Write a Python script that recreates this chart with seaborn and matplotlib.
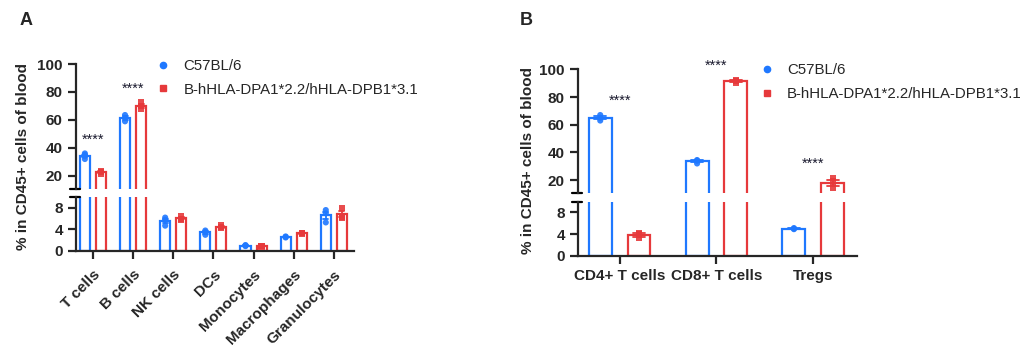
import pandas as pd
import matplotlib
matplotlib.use("Agg")
import matplotlib.pyplot as plt
from matplotlib.lines import Line2D
import seaborn as sns

# Групи та кольори
groups = ["C57BL/6", "B-hHLA-DPA1*2.2/hHLA-DPB1*3.1"]
colors = ["#1f78ff", "#e6393b"]
markers = ["o", "s"]

# Панель A: клітини крові
cells_a = ["T cells", "B cells", "NK cells", "DCs", "Monocytes", "Macrophages", "Granulocytes"]
wt_a = [[32, 34, 35, 36], [59, 61.5, 63.5], [4.7, 5.8, 6.2], [3.0, 3.5, 3.8],
        [0.9, 1.0, 1.1], [2.5, 2.6, 2.7], [5.3, 7.0, 7.6]]
hu_a = [[21, 23, 23.5], [68, 70, 72.5], [5.8, 6.0, 6.4], [4.3, 4.4, 4.9],
        [0.8, 0.9, 1.0], [3.2, 3.3, 3.4], [6.2, 6.4, 8.0]]
sig_a = ["T cells", "B cells"]

# Панель B: субпопуляції T-клітин
cells_b = ["CD4+ T cells", "CD8+ T cells", "Tregs"]
wt_b = [[63, 65, 67], [32, 34, 34.5], [4.9, 5.0, 5.1]]
hu_b = [[3.2, 4.0, 4.2], [90.5, 91.5, 92.5], [14, 19, 21.5]]
sig_b = ["CD4+ T cells", "CD8+ T cells", "Tregs"]

top_ticks = [20, 40, 60, 80, 100]
bot_ticks = [0, 4, 8]


def make_df(cells, wt, hu):
    rows = []
    for c, a, b in zip(cells, wt, hu):
        rows += [(c, groups[0], v) for v in a]
        rows += [(c, groups[1], v) for v in b]
    return pd.DataFrame(rows, columns=["cell", "group", "value"])


sns.set_style("ticks")
plt.rcParams["font.family"] = ["Liberation Sans", "DejaVu Sans"]
plt.rcParams["font.weight"] = "bold"

fig = plt.figure(figsize=(10.33, 3.52), dpi=100)


def draw_panel(rect_top, rect_bot, df, order, sig, gap, xlim):
    ax_top = fig.add_axes(rect_top)
    ax_bot = fig.add_axes(rect_bot)
    for ax in (ax_top, ax_bot):
        sns.barplot(data=df, x="cell", y="value", hue="group", order=order, hue_order=groups,
                    palette=colors, fill=False, gap=gap, errorbar="se",
                    capsize=0.25, err_kws={"linewidth": 1.3}, linewidth=1.6,
                    legend=False, ax=ax)
        for grp, mk in zip(groups, markers):
            sns.stripplot(data=df[df.group == grp], x="cell", y="value", hue="group",
                          order=order, hue_order=groups, palette=colors, dodge=True,
                          jitter=False, marker=mk, size=4.4, alpha=0.9, legend=False, ax=ax)
        ax.set_xlim(*xlim)
        ax.set_xlabel("")
        ax.set_ylabel("")
        for s in ("top", "right"):
            ax.spines[s].set_visible(False)
        ax.spines["left"].set_linewidth(1.6)
        ax.spines["bottom"].set_linewidth(1.6)
        ax.tick_params(width=1.6, length=6, labelsize=11)
        for lab in ax.get_yticklabels():
            lab.set_fontweight("bold")

    ax_top.set_ylim(10.5, 100)
    ax_top.set_yticks(top_ticks)
    ax_top.spines["bottom"].set_visible(False)
    ax_top.tick_params(axis="x", bottom=False, labelbottom=False)
    ax_bot.set_ylim(0, 10)
    ax_bot.set_yticks(bot_ticks)

    # позначки розриву осі
    ax_top.plot([-0.02, 0.015], [0, 0], transform=ax_top.transAxes, clip_on=False,
                color="black", lw=1.6)
    ax_bot.plot([-0.02, 0.015], [1, 1], transform=ax_bot.transAxes, clip_on=False,
                color="black", lw=1.6)

    # зірочки значущості
    for i, c in enumerate(order):
        if c in sig:
            ymax = df[df.cell == c]["value"].max()
            ax_top.text(i, ymax + 10, "****", ha="center", va="center", fontsize=10.5,
                        fontweight="normal", color="#1a1a2e")
    return ax_top, ax_bot


df_a = make_df(cells_a, wt_a, hu_a)
df_b = make_df(cells_b, wt_b, hu_b)

top_a, bot_a = draw_panel([0.0736, 0.463, 0.269, 0.355], [0.0736, 0.287, 0.269, 0.153],
                          df_a, cells_a, sig_a, 0.375, (-0.42, 6.5))
top_b, bot_b = draw_panel([0.5595, 0.451, 0.270, 0.352], [0.5595, 0.274, 0.270, 0.153],
                          df_b, cells_b, sig_b, 0.41, (-0.43, 2.45))

bot_a.tick_params(axis="x", pad=6)
for lab in bot_a.get_xticklabels():
    lab.set_rotation(45)
    lab.set_ha("right")
    lab.set_rotation_mode("anchor")
    lab.set_fontweight("bold")
for lab in bot_b.get_xticklabels():
    lab.set_fontweight("bold")

# Легенди
handles = [Line2D([], [], ls="", marker=m, color=c, markersize=4.5) for m, c in zip(markers, colors)]
for x, y in [(0.1437, 0.854), (0.7275, 0.842)]:
    fig.legend(handles, groups, loc="upper left", bbox_to_anchor=(x, y), frameon=False,
               borderpad=0, handlelength=1, handletextpad=0.85, labelspacing=0.65,
               prop={"size": 10.8, "weight": "normal"})

# Підписи осей і панелей
fig.text(0.022, 0.555, "% in CD45+ cells of blood", rotation=90, ha="center", va="center",
         fontsize=11, fontweight="bold")
fig.text(0.511, 0.545, "% in CD45+ cells of blood", rotation=90, ha="center", va="center",
         fontsize=11, fontweight="bold")
fig.text(0.019, 0.93, "A", fontsize=13, fontweight="bold")
fig.text(0.503, 0.93, "B", fontsize=13, fontweight="bold")

fig.savefig("out.png", dpi=100)
